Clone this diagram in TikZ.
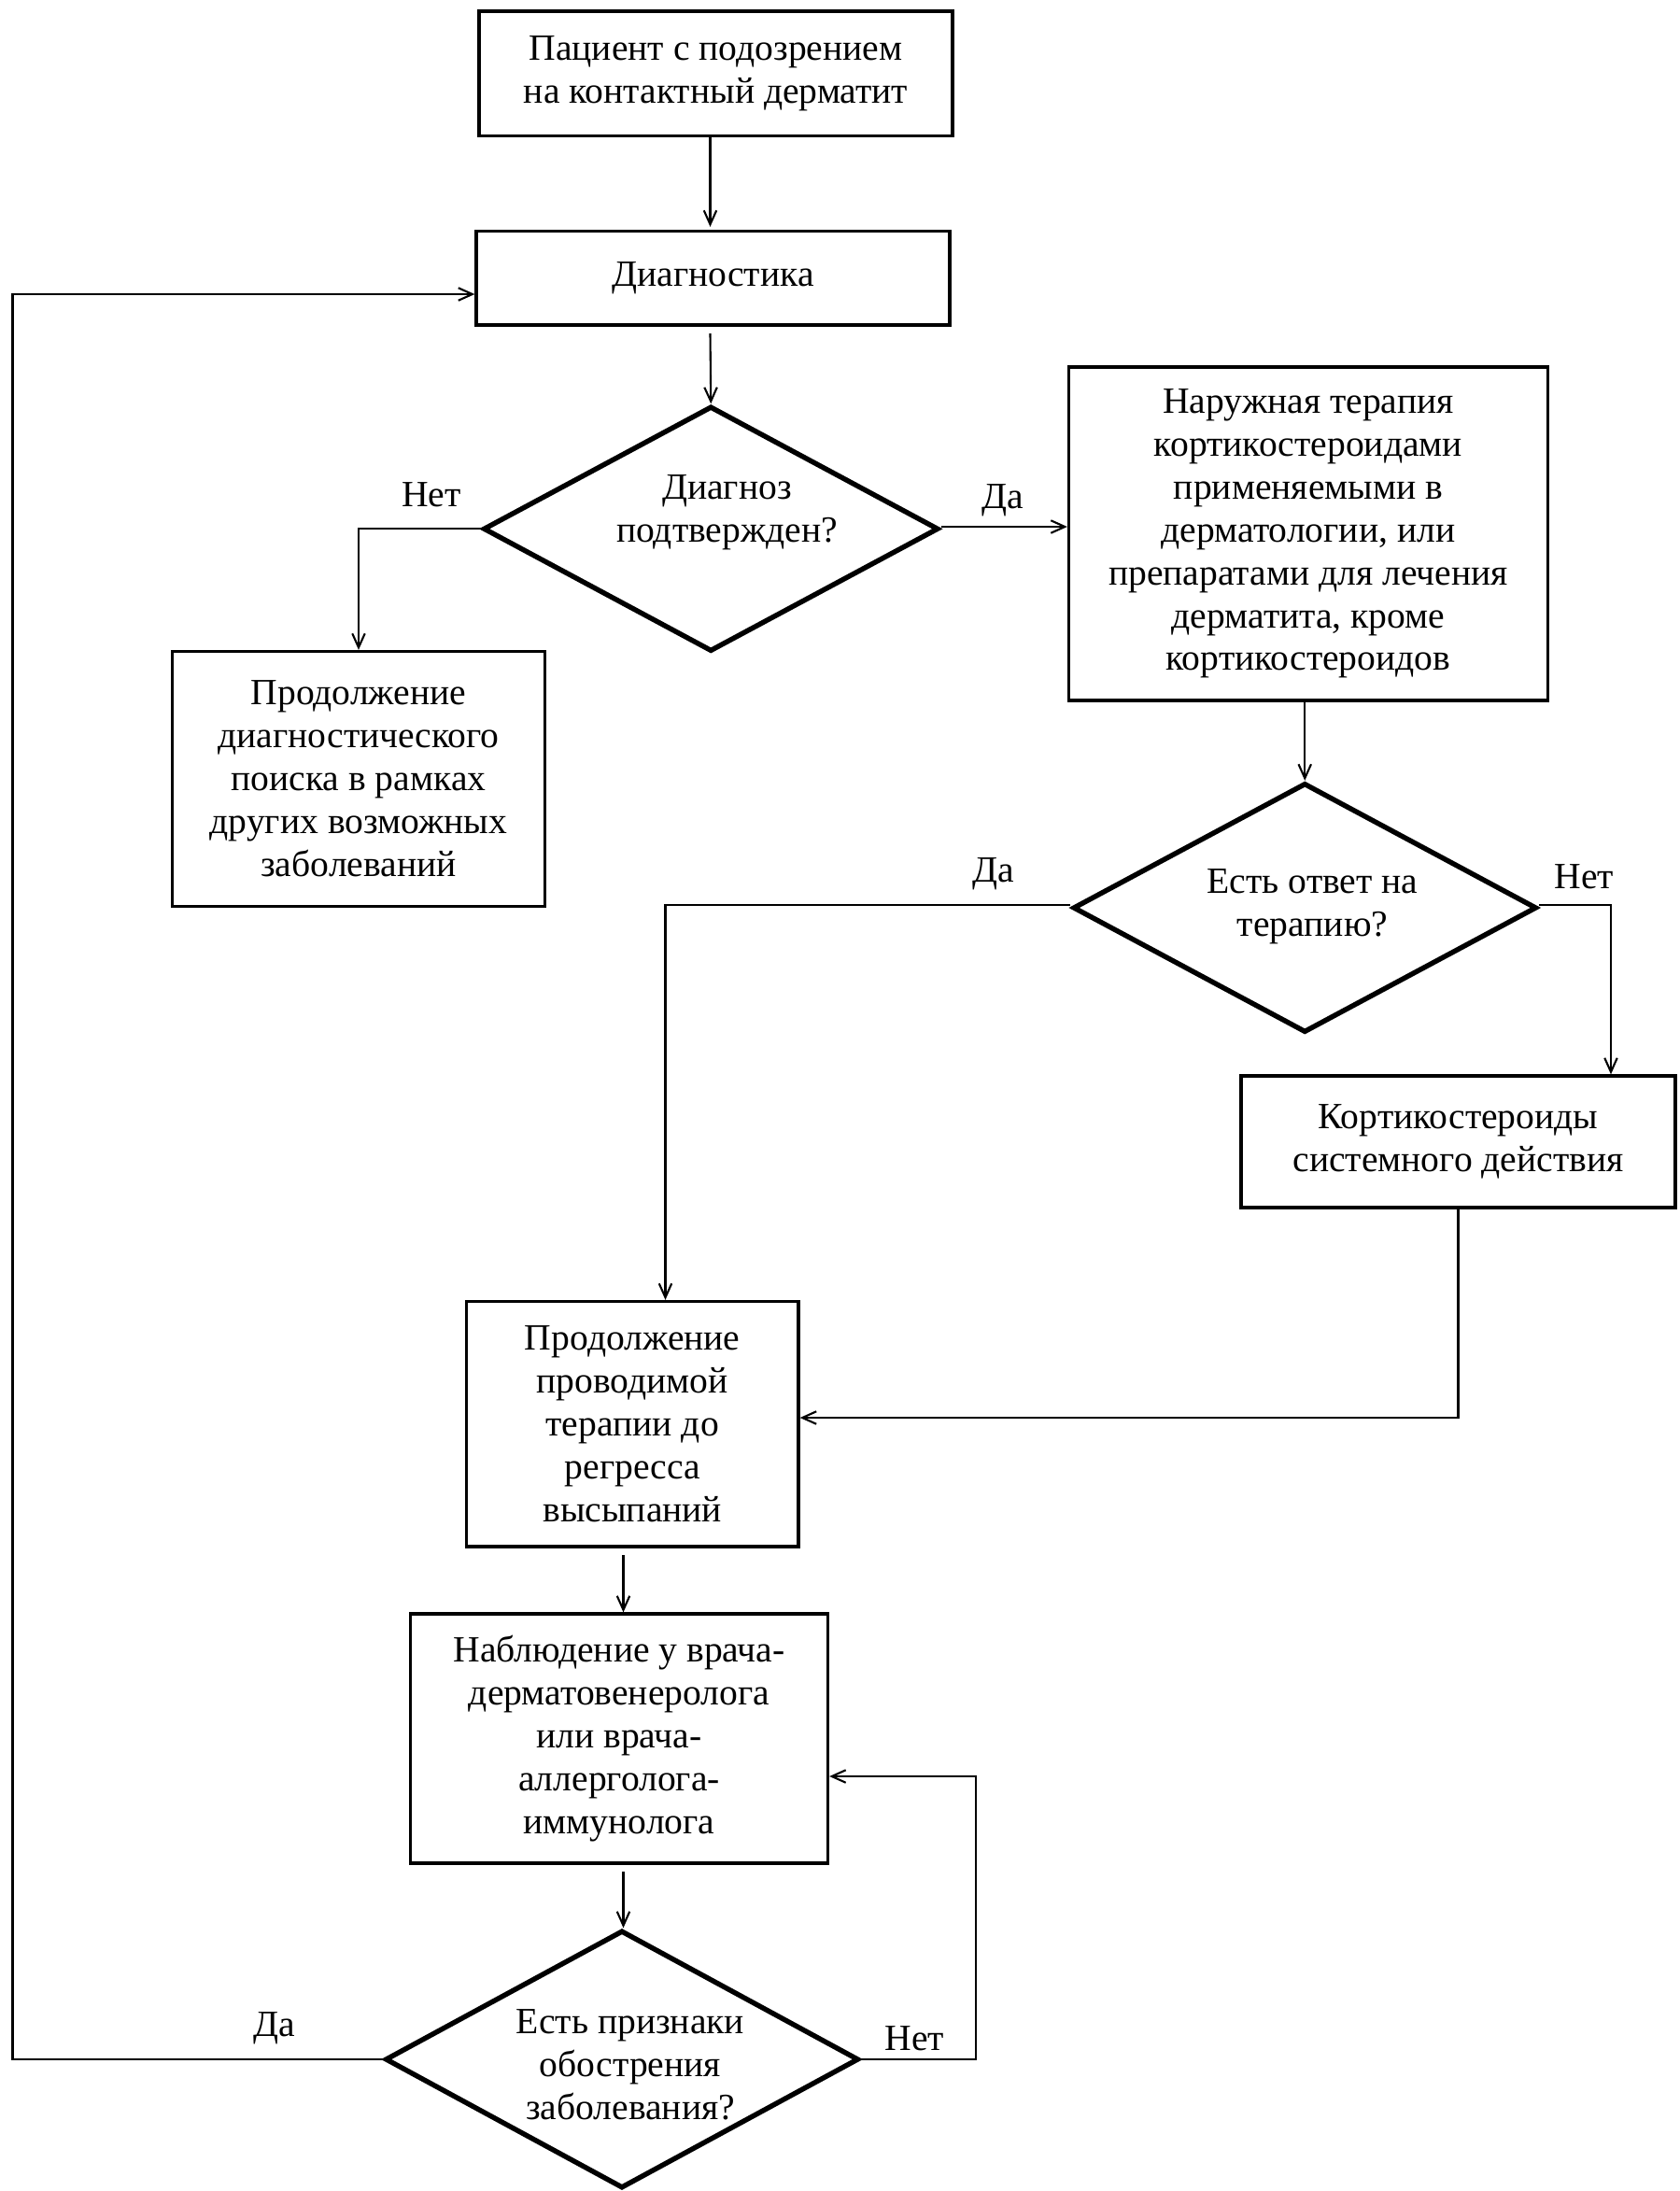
\documentclass[tikz,border=0pt]{standalone}
\usepackage{fontspec}
\setmainfont{Liberation Serif}
\usetikzlibrary{shapes.geometric,arrows.meta,calc}
\begin{document}
\begin{tikzpicture}[x=0.5pt,y=-0.5pt,
  every node/.style={font=\fontsize{13.2}{15.3}\selectfont},
  box/.style={draw,line width=1.1pt,align=center,inner sep=0pt},
  dia/.style={draw,diamond,line width=1.8pt,inner sep=0pt},
  txt/.style={align=center,inner sep=0pt},
  lbl/.style={inner sep=0pt},
  conn/.style={line width=0.7pt,-{Straight Barb[length=5pt,width=4.5pt]}},
  line/.style={line width=0.7pt}]
\useasboundingbox (0,0) rectangle (1199,1564);
% boxes
\node[box,minimum width=169pt,minimum height=44.5pt] (b1) at (511,52.5) {Пациент с подозрением\\на контактный дерматит};
\node[box,minimum width=169pt,minimum height=33.5pt] (b2) at (509,198.5) {Диагностика};
\node[box,minimum width=133pt,minimum height=91pt] (b3) at (256,556) {Продолжение\\диагностического\\поиска в рамках\\других возможных\\заболеваний};
\node[box,minimum width=171pt,minimum height=119pt] (b4) at (934,381) {Наружная терапия\\кортикостероидами\\применяемыми в\\дерматологии, или\\препаратами для лечения\\дерматита, кроме\\кортикостероидов};
\node[box,minimum width=118.5pt,minimum height=87.5pt] (b5) at (451.5,1016.5) {Продолжение\\проводимой\\терапии до\\регресса\\высыпаний};
\node[box,minimum width=155pt,minimum height=47pt] (b6) at (1041,815) {Кортикостероиды\\системного действия};
\node[box,minimum width=149pt,minimum height=89pt] (b7) at (442,1241) {Наблюдение у врача-\\дерматовенеролога\\или врача-\\аллерголога-\\иммунолога};
% diamonds
\node[dia,minimum width=162.5pt,minimum height=87.5pt] (d1) at (507.5,377.5) {};
\node[txt] (t1) at (519,366) {Диагноз\\подтвержден?};
\node[dia,minimum width=165.5pt,minimum height=89pt] (d2) at (931.5,648) {};
\node[txt] (t2) at (937,647) {Есть ответ на\\терапию?};
\node[dia,minimum width=169pt,minimum height=92pt] (d3) at (444,1470) {};
\node[txt] (t3) at (450,1474) {Есть признаки\\обострения\\заболевания?};
% labels
\node[lbl] (l1) at (308,353) {Нет};
\node[lbl] (l2) at (716,357) {Да};
\node[lbl] (l3) at (709,624) {Да};
\node[lbl] (l4) at (1131,626) {Нет};
\node[lbl] (l5) at (653,1455) {Нет};
\node[lbl] (l6) at (196,1448) {Да};
\coordinate (lx) at (9,0);
% connectors
\draw[conn] ($(b1.south)+(-4,0)$) -- ($(b2.north)+(-2,-2)$);
\draw[conn] ($(b2.south)+(-2,5)$) -- (d1.north);
\draw[conn] (d1.west) -| (b3.north);
\draw[conn] ($(d1.east)+(0,-1.5)$) -- ($(b4.west)+(0,-5)$);
\draw[conn] (d2.north |- b4.south) -- (d2.north);
\draw[conn] ($(d2.west)+(0,-2)$) -| ($(b5.north)+(23.5,0)$);
\draw[conn] ($(d2.east)+(0,-2)$) -| ($(b6.north)+(109,0)$);
\draw[conn] (b6.south) |- ($(b5.east)+(0,-4.5)$);
\draw[conn] ($(b7.north |- b5.south)+(3,5)$) -- ($(b7.north)+(3,0)$);
\draw[conn] ($(d3.north |- b7.south)+(1,5)$) -- ($(d3.north)+(1,0)$);
\draw[conn] (d3.east) -- ++(82,0) |- ($(b7.east)+(0,27)$);
\draw[conn] (d3.west) -- (d3.west -| lx) |- ($(b2.west)+(0,11.5)$);
\end{tikzpicture}
\end{document}
